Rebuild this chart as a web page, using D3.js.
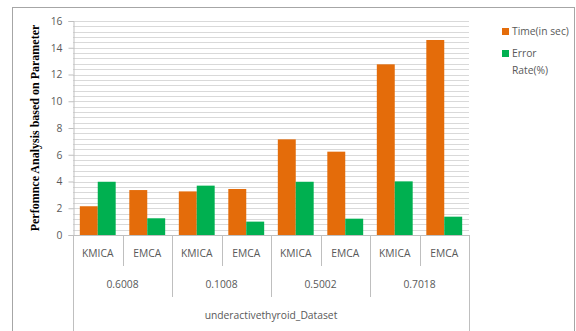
<!DOCTYPE html>
<html>
<head>
<meta charset="utf-8">
<script src="https://cdn.jsdelivr.net/npm/d3@7/dist/d3.min.js"></script>
<style>
  body { margin: 0; background: #fff; }
  svg { display: block; }
  text { font-family: "Open Sans", "Noto Sans", sans-serif; fill: #595959; }
</style>
</head>
<body>
<svg id="chart" width="576" height="331"></svg>
<script>
const methods = ["KMICA", "EMCA", "KMICA", "EMCA", "KMICA", "EMCA", "KMICA", "EMCA"]
const params = ["0.6008", "0.1008", "0.5002", "0.7018"]
const datasetLabel = "underactivethyroid_Dataset"
const timeSec = [2.15, 3.36, 3.26, 3.44, 7.15, 6.23, 12.76, 14.58]
const errorRate = [3.98, 1.25, 3.69, 1.0, 3.98, 1.22, 4.01, 1.37]
const seriesNames = ["Time(in sec)", "Error Rate(%)"]
const yTicks = [0, 2, 4, 6, 8, 10, 12, 14, 16]

const width = 576
const height = 331
const orange = "#e46c0a"
const green = "#00b050"
const gridColor = "#d9d9d9"
const axisColor = "#bfbfbf"
const fs = 10.3

const plot = {left: 73, right: 469, top: 21, bottom: 235}

const svg = d3.select("#chart")

// outer chart border
svg.append("rect")
  .attr("x", 12.5).attr("y", 7.5)
  .attr("width", 562).attr("height", 340)
  .attr("fill", "#fff")
  .attr("stroke", "#a6a6a6")
  .attr("stroke-width", 1)

const y = d3.scaleLinear().domain([0, 16]).range([plot.bottom, plot.top])

const x = d3.scaleBand()
  .domain(d3.range(methods.length))
  .range([plot.left, plot.right])

const inner = d3.scaleBand()
  .domain([0, 1])
  .range([0, x.bandwidth()])
  .paddingOuter(0.38)
  .paddingInner(0)

// minor + major gridlines
const gridVals = d3.range(0, 16.001, 0.4)
svg.append("g")
  .selectAll("line")
  .data(gridVals)
  .join("line")
  .attr("x1", plot.left).attr("x2", plot.right)
  .attr("y1", d => Math.round(y(d)) + 0.5)
  .attr("y2", d => Math.round(y(d)) + 0.5)
  .attr("stroke", gridColor)
  .attr("stroke-width", 1)

// y axis
const yAxis = svg.append("g")
  .attr("transform", `translate(${plot.left + 0.5},0)`)
  .call(d3.axisLeft(y).tickValues(yTicks).tickSize(5).tickPadding(6))
yAxis.select(".domain").attr("stroke", axisColor)
yAxis.selectAll(".tick line").attr("stroke", axisColor)
yAxis.selectAll(".tick text")
  .attr("font-size", fs)
  .attr("fill", "#595959")
  .style("font-family", "'Open Sans', sans-serif")

// bars
const series = [timeSec, errorRate]
const colors = [orange, green]
series.forEach((vals, s) => {
  svg.append("g")
    .selectAll("rect")
    .data(vals)
    .join("rect")
    .attr("x", (d, i) => x(i) + inner(s))
    .attr("width", inner.bandwidth())
    .attr("y", d => y(d))
    .attr("height", d => y(0) - y(d))
    .attr("fill", colors[s])
})

// category axis
const catAxis = svg.append("g")
catAxis.append("line")
  .attr("x1", plot.left).attr("x2", plot.right)
  .attr("y1", plot.bottom + 0.5).attr("y2", plot.bottom + 0.5)
  .attr("stroke", axisColor)

d3.range(methods.length + 1).forEach(i => {
  const xp = i < methods.length ? x(i) : plot.right
  let y2 = 266
  if (i % 2 === 0) y2 = 297
  if (i === 0 || i === methods.length) y2 = height
  catAxis.append("line")
    .attr("x1", Math.round(xp) + 0.5).attr("x2", Math.round(xp) + 0.5)
    .attr("y1", plot.bottom).attr("y2", y2)
    .attr("stroke", axisColor)
})

catAxis.selectAll(".method")
  .data(methods)
  .join("text")
  .attr("class", "method")
  .attr("x", (d, i) => x(i) + x.bandwidth() / 2)
  .attr("y", 257)
  .attr("text-anchor", "middle")
  .attr("font-size", fs)
  .text(d => d)

catAxis.selectAll(".param")
  .data(params)
  .join("text")
  .attr("class", "param")
  .attr("x", (d, i) => x(i * 2) + x.bandwidth())
  .attr("y", 288)
  .attr("text-anchor", "middle")
  .attr("font-size", fs)
  .text(d => d)

catAxis.append("text")
  .attr("x", (plot.left + plot.right) / 2)
  .attr("y", 319)
  .attr("text-anchor", "middle")
  .attr("font-size", fs)
  .text(datasetLabel)

// y axis title
svg.append("text")
  .attr("transform", `translate(39,${(plot.top + plot.bottom) / 2}) rotate(-90)`)
  .attr("text-anchor", "middle")
  .attr("font-size", 12)
  .attr("font-weight", "bold")
  .style("font-family", "'Liberation Serif', serif")
  .style("fill", "#000")
  .text("Perfomnce Analysis based on Parameter")

// legend
const legend = svg.append("g").attr("transform", "translate(502,0)")
legend.append("rect").attr("x", 0).attr("y", 28).attr("width", 7).attr("height", 7).attr("fill", orange)
legend.append("text").attr("x", 10).attr("y", 35).attr("font-size", fs).text(seriesNames[0])
legend.append("rect").attr("x", 0).attr("y", 50).attr("width", 7).attr("height", 7).attr("fill", green)
legend.append("text").attr("x", 10).attr("y", 57).attr("font-size", fs).text("Error")
legend.append("text").attr("x", 10).attr("y", 74).attr("font-size", fs).text("Rate(%)")
</script>
</body>
</html>
